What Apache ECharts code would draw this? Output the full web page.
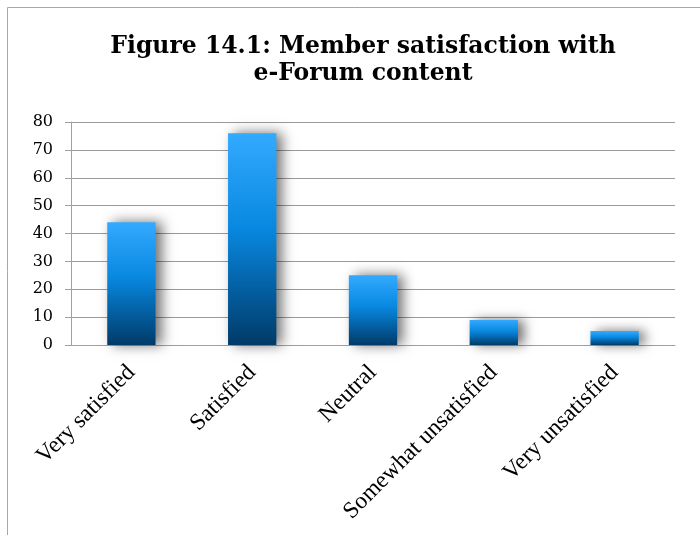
<!DOCTYPE html>
<html>
<head>
<meta charset="utf-8">
<script src="https://cdn.jsdelivr.net/npm/echarts@6/dist/echarts.min.js"></script>
<style>
html, body { margin: 0; padding: 0; background: #fff; }
#chart { width: 700px; height: 535px; }
</style>
</head>
<body>
<div id="chart"></div>
<script>
// categories and answers
const categories = ['Very satisfied', 'Satisfied', 'Neutral', 'Somewhat unsatisfied', 'Very unsatisfied'];
const responses = [44, 76, 25, 9, 5];
const yTicks = { min: 0, max: 80, interval: 10 };

const myChart = echarts.init(document.getElementById('chart'));
const option = {
  backgroundColor: '#fff',
  animation: false,
  title: {
    text: 'Figure 14.1: Member satisfaction with\ne-Forum content',
    left: 358,
    top: 28,
    textAlign: 'center',
    textStyle: {
      fontFamily: 'DejaVu Serif',
      fontWeight: 'bold',
      fontSize: 23.5,
      lineHeight: 27,
      color: '#000'
    }
  },
  // outer frame of the chart area
  graphic: [{
    type: 'rect',
    shape: { x: 7.5, y: 7.5, width: 800, height: 700 },
    style: { fill: 'none', stroke: '#a8a8a8', lineWidth: 1 },
    silent: true,
    z: -1
  }],
  grid: {
    left: 71,
    right: 25,
    top: 122,
    bottom: 190
  },
  xAxis: {
    type: 'category',
    data: categories,
    axisLine: { show: true, lineStyle: { color: '#a0a0a0', width: 1 } },
    axisTick: { show: false },
    axisLabel: {
      rotate: 45,
      interval: 0,
      margin: 24,
      fontFamily: 'Liberation Serif',
      fontSize: 23.5,
      color: '#000'
    }
  },
  yAxis: {
    type: 'value',
    min: yTicks.min,
    max: yTicks.max,
    interval: yTicks.interval,
    axisLine: { show: true, lineStyle: { color: '#a0a0a0', width: 1 } },
    axisTick: { show: true, length: 6, lineStyle: { color: '#a0a0a0' } },
    axisLabel: {
      margin: 18,
      fontFamily: 'DejaVu Serif',
      fontSize: 16,
      color: '#000'
    },
    splitLine: { show: true, lineStyle: { color: '#9a9a9a', width: 1 } }
  },
  series: [{
    type: 'bar',
    data: responses,
    barWidth: '40%',
    itemStyle: {
      color: new echarts.graphic.LinearGradient(0, 0, 0, 1, [
        { offset: 0, color: '#33aaff' },
        { offset: 0.45, color: '#0888e0' },
        { offset: 1, color: '#003a68' }
      ]),
      shadowColor: 'rgba(0,0,0,0.55)',
      shadowBlur: 12,
      shadowOffsetX: 6,
      shadowOffsetY: 0
    }
  }]
};
myChart.setOption(option);
</script>
</body>
</html>
